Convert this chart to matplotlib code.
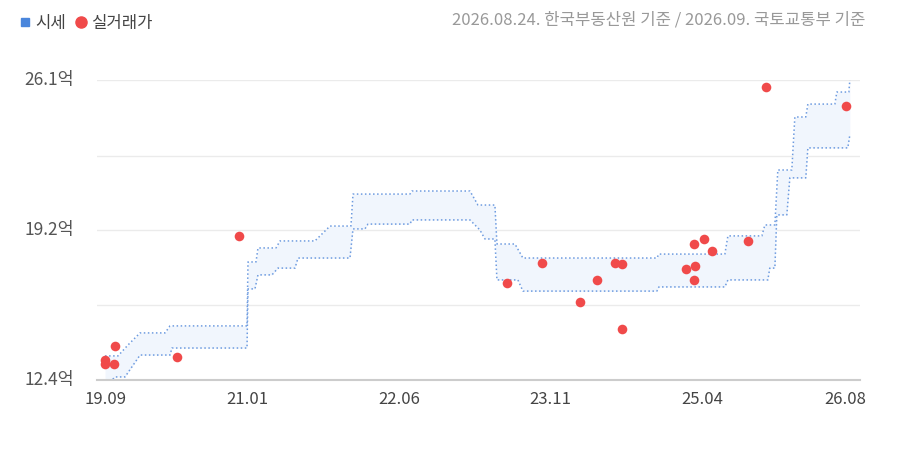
import numpy as np
import matplotlib
matplotlib.use("Agg")
import matplotlib.pyplot as plt
from matplotlib.lines import Line2D

plt.rcParams['font.family'] = ['Noto Sans CJK KR', 'DejaVu Sans']

# months since 2019.09
up_m = [0, 1.46, 2.58, 3.93, 6.73, 7.29, 15.93, 16.04, 16.94, 17.16, 19.18, 19.63, 23.55, 25.24, 27.59, 27.82,
        34.21, 34.43, 40.94, 41.84, 43.74, 43.97, 45.99, 46.88, 61.91, 62.14, 69.54, 69.88, 73.69, 74.03,
        75.15, 75.48, 77.05, 77.39, 78.62, 78.85, 81.88, 82.10, 83.45, 83.56]
up_v = [13.50, 13.50, 14.0, 14.55, 14.55, 14.87, 14.87, 17.79, 17.79, 18.43, 18.43, 18.75, 18.75, 19.43, 19.43, 20.89,
        20.89, 21.03, 21.03, 20.39, 20.39, 18.61, 18.61, 17.97, 17.97, 18.15, 18.15, 18.98, 18.98, 19.48,
        19.48, 21.99, 21.99, 24.41, 24.41, 25.00, 25.00, 25.55, 25.55, 26.10]
lo_m = [0, 0.79, 1.12, 2.24, 3.93, 7.29, 7.51, 15.93, 16.04, 16.82, 17.16, 18.73, 19.40, 21.31, 21.65, 27.48,
        27.82, 29.16, 29.50, 34.21, 34.43, 40.94, 42.06, 42.62, 43.74, 43.97, 46.32, 46.88, 61.91, 62.14,
        69.54, 69.88, 74.36, 74.58, 75.15, 75.37, 76.49, 76.83, 78.62, 78.85, 83.33, 83.56]
lo_v = [12.40, 12.40, 12.54, 12.54, 13.54, 13.54, 13.86, 13.86, 16.56, 16.56, 17.20, 17.20, 17.51, 17.51, 17.97, 17.97,
        19.30, 19.30, 19.52, 19.52, 19.71, 19.71, 19.25, 18.84, 18.84, 16.97, 16.97, 16.46, 16.46, 16.65,
        16.65, 16.97, 16.97, 17.51, 17.51, 19.94, 19.94, 21.63, 21.63, 23.00, 23.00, 23.59]

deal_m = [0, 0, 1.12, 1.01, 8.08, 15.03, 45.09, 49.01, 53.28, 55.18, 57.20, 57.99, 57.99, 65.17, 66.06,
          66.17, 66.06, 67.18, 68.08, 72.12, 74.14, 83.11]
deal_v = [13.13, 13.31, 13.95, 13.13, 13.45, 18.98, 16.83, 17.74, 15.96, 16.97, 17.74, 17.70, 14.73, 17.47, 18.61,
          17.61, 16.97, 18.84, 18.29, 18.75, 25.78, 24.91]

xticks = [0, 16, 33, 50, 67, 83]
xlabels = ['19.09', '21.01', '22.06', '23.11', '25.04', '26.08']
ygrid = [12.4, 15.83, 19.25, 22.65, 26.1]
ylabels = ['12.4억', '', '19.2억', '', '26.1억']

fig = plt.figure(figsize=(9, 4.5), dpi=100)
ax = fig.add_axes([97/900, 1-380/450, (860-97)/900, 300/450])
ax.set_xlim(-0.9, 84.7)
ax.set_ylim(12.4, 26.1)

grid = np.union1d(up_m, lo_m)
ax.fill_between(grid, np.interp(grid, lo_m, lo_v), np.interp(grid, up_m, up_v),
                color='#f1f6fd', lw=0, zorder=1)
ax.plot(up_m, up_v, ls=':', color='#6d9be0', lw=1.1, zorder=2)
ax.plot(lo_m, lo_v, ls=':', color='#6d9be0', lw=1.1, zorder=2)
ax.scatter(deal_m, deal_v, s=48, color='#f04a4a', zorder=3, lw=0)

for g in ygrid[1:]:
    ax.axhline(g, color='#ebebeb', lw=1, zorder=0)
for s in ['top', 'right', 'left']:
    ax.spines[s].set_visible(False)
ax.spines['bottom'].set_color('#cccccc')
ax.spines['bottom'].set_linewidth(1.5)
ax.set_xticks(xticks)
ax.set_xticklabels(xlabels, fontsize=12, color='#444444')
ax.tick_params(axis='x', length=0, pad=8)
ax.set_yticks([])
for g, l in zip(ygrid, ylabels):
    if l:
        ax.text(-0.095, g, l, transform=ax.get_yaxis_transform(), fontsize=12.5,
                color='#555555', va='center', ha='left')

handles = [Line2D([], [], marker='s', ls='', color='#4a86dc', markersize=6),
           Line2D([], [], marker='o', ls='', color='#f04a4a', markersize=8)]
fig.legend(handles, ['시세', '실거래가'], loc='upper left', bbox_to_anchor=(0.0, 1.0), ncol=2,
           frameon=False, fontsize=12, handletextpad=0.0, columnspacing=0.3, handlelength=1.2,
           labelcolor='#444444')
fig.text(0.962, 0.955, '2026.08.24. 한국부동산원 기준 / 2026.09. 국토교통부 기준', ha='right', va='center',
         fontsize=12, color='#999999')
fig.savefig('out.png', dpi=100, facecolor='white')
